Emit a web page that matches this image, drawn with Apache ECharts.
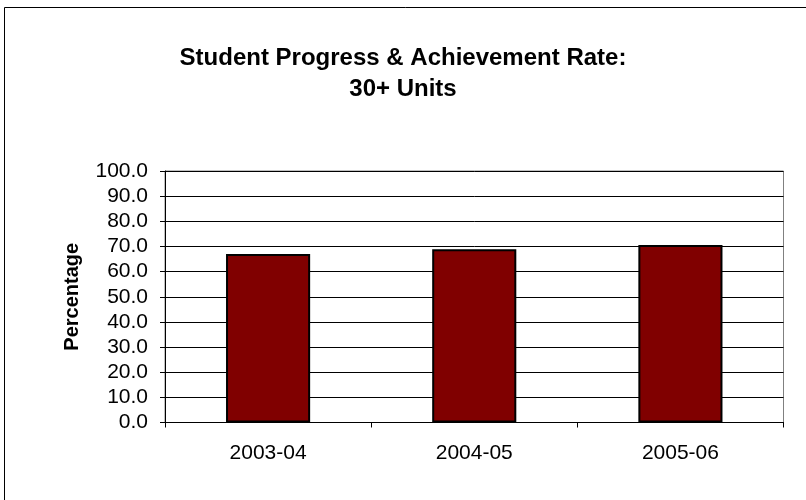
<!DOCTYPE html>
<html><head><meta charset="utf-8">
<script src="https://cdn.jsdelivr.net/npm/echarts@6/dist/echarts.min.js"></script>
<style>html,body{margin:0;padding:0;background:#fff}#c{width:806px;height:500px}</style>
</head><body><div id="c"></div>
<script>
var categories = ['2003-04', '2004-05', '2005-06'];
var values = [67.0, 68.9, 70.6];
var yTicks = {min: 0, max: 100, interval: 10};
var titleText = 'Student Progress & Achievement Rate:\n30+ Units';
var yName = 'Percentage';

var chart = echarts.init(document.getElementById('c'), null, {renderer: 'canvas'});
chart.setOption({
  animation: false,
  backgroundColor: '#fff',
  graphic: [{
    type: 'rect', shape: {x: 4.5, y: 7.5, width: 900, height: 700},
    style: {fill: 'none', stroke: '#000', lineWidth: 1}, silent: true
  }, {
    type: 'rect', shape: {x: 165, y: 171, width: 618.5, height: 251.5},
    style: {fill: 'none', stroke: '#808080', lineWidth: 1}, silent: true, z: 0
  }],
  title: {
    text: titleText, left: 'center', top: 38,
    textStyle: {fontFamily: 'Liberation Sans, Arial', fontSize: 24, fontWeight: 'bold', color: '#000', lineHeight: 31}
  },
  grid: {left: 165, right: 22.5, top: 171, bottom: 77.5, containLabel: false},
  xAxis: {
    type: 'category', data: categories,
    axisLine: {lineStyle: {color: '#000', width: 1}},
    axisTick: {show: true, alignWithLabel: false, length: 5, inside: false, lineStyle: {color: '#000'}},
    axisLabel: {fontFamily: 'Liberation Sans, Arial', fontSize: 21, color: '#000', margin: 20}
  },
  yAxis: {
    type: 'value', min: yTicks.min, max: yTicks.max, interval: yTicks.interval,
    name: yName, nameLocation: 'middle', nameGap: 83, nameRotate: 90,
    nameTextStyle: {fontFamily: 'Liberation Sans, Arial', fontSize: 20, fontWeight: 'bold', color: '#000'},
    axisLine: {show: true, lineStyle: {color: '#000', width: 1}},
    axisTick: {show: true, length: 5, lineStyle: {color: '#000'}},
    axisLabel: {fontFamily: 'Liberation Sans, Arial', fontSize: 21, color: '#000', margin: 17,
      formatter: function (v) { return v.toFixed(1); }},
    splitLine: {show: true, lineStyle: {color: '#000', width: 1}}
  },
  series: [{
    type: 'bar', data: values, barWidth: '40.8%',
    itemStyle: {color: '#800000', borderColor: '#000', borderWidth: 2}
  }]
});
</script></body></html>
